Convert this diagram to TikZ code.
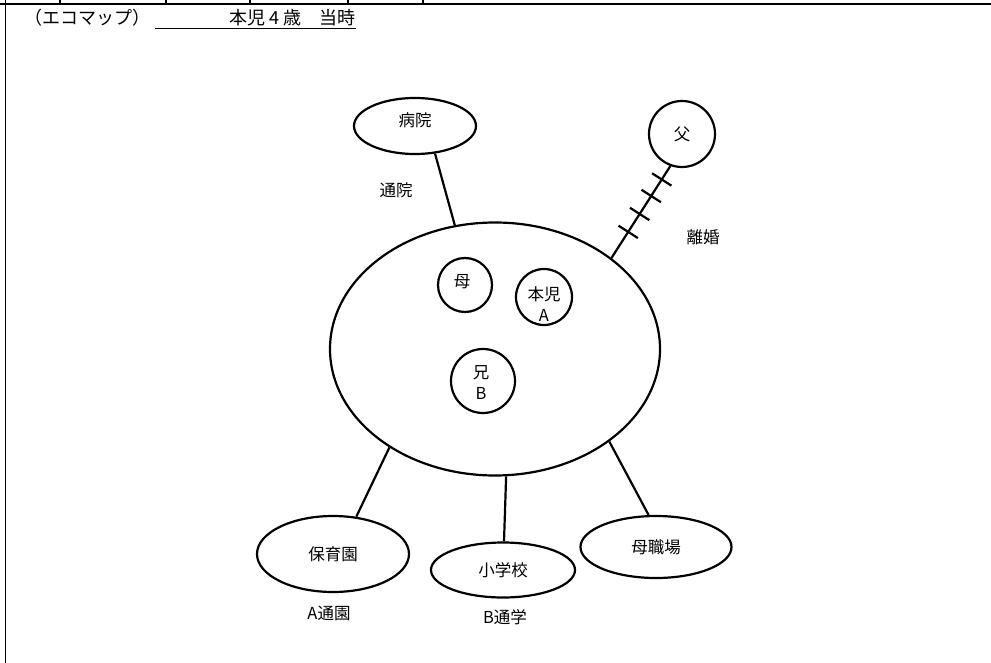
\documentclass[tikz,border=0pt]{standalone}
\usepackage{fontspec}
\newfontfamily\jp{Noto Sans CJK JP}
\usetikzlibrary{shapes.geometric,decorations.markings}
\begin{document}
\begin{tikzpicture}[x=1pt,y=-1pt,
  every node/.style={font=\jp\fontsize{16.5}{21}\selectfont, inner sep=0pt},
  titlefont/.style={font=\jp\fontsize{18}{22}\selectfont},
  ell/.style={draw, ellipse, line width=2.2pt},
  circ/.style={draw, circle, line width=2.2pt},
  conn/.style={line width=2.2pt},
  frame/.style={line width=1.6pt}]
\useasboundingbox (0,0) rectangle (991,663);
% frame
\draw[frame] (0,4) -- (991,4);
\draw[frame] (5.5,0) -- (5.5,663);
\foreach \tx in {60,166,250,348,423}{\draw[frame] (\tx,0) -- (\tx,4);}
% title
\node[titlefont, anchor=west] (title) at (24,18) {（エコマップ）};
\node[titlefont, anchor=east] (when) at (356,18) {本児 4 歳　当時};
\coordinate (ulA) at (155,28.5);
\coordinate (ulB) at (356,28.5);
\draw[line width=1pt] (ulA) -- (ulB);
% nodes
\node[ell, minimum width=330pt, minimum height=253pt] (fam) at (495,349) {};
\node[ell, minimum width=122pt, minimum height=56pt] (byoin) at (415,126) {};
\node (byointxt) at (415,120) {病院};
\node[circ, minimum size=66pt] (chichi) at (682,134) {父};
\node[circ, minimum size=54pt] (haha) at (465,285) {};
\node (hahatxt) at (462,282) {母};
\node[circ, minimum size=56pt] (honji) at (544,297) {};
\node[align=center] (honjitxt) at (544,304) {本児\\A};
\node[circ, minimum size=64pt] (ani) at (483,381) {};
\node[align=center] (anitxt) at (481,383) {兄\\B};
\node[ell, minimum width=152pt, minimum height=76pt] (hoiku) at (333,554) {保育園};
\node[ell, minimum width=144pt, minimum height=55pt] (shou) at (503,570) {小学校};
\node[ell, minimum width=151pt, minimum height=62pt] (shoku) at (656,547) {母職場};
% labels
\node (l1) at (396,190) {通院};
\node (l2) at (703,237) {離婚};
\node (l3) at (329,613) {A通園};
\node (l4) at (505,617) {B通学};
% connectors
\draw[conn] (byoin.-54) -- (fam.108);
\draw[conn, postaction={decorate, decoration={markings,
   mark=at position 0.285 with {\draw[line width=2.2pt] (0,-11.5) -- (0,11.5);},
   mark=at position 0.48 with {\draw[line width=2.2pt] (0,-11.5) -- (0,11.5);},
   mark=at position 0.676 with {\draw[line width=2.2pt] (0,-11.5) -- (0,11.5);},
   mark=at position 0.856 with {\draw[line width=2.2pt] (0,-11.5) -- (0,11.5);}}}]
   (fam.38) -- (chichi.-110);
\draw[conn] (fam.-137) -- (hoiku.58);
\draw[conn] (fam.-85.4) -- (shou.88);
\draw[conn] (fam.-39.5) -- (shoku.103);
\end{tikzpicture}
\end{document}
